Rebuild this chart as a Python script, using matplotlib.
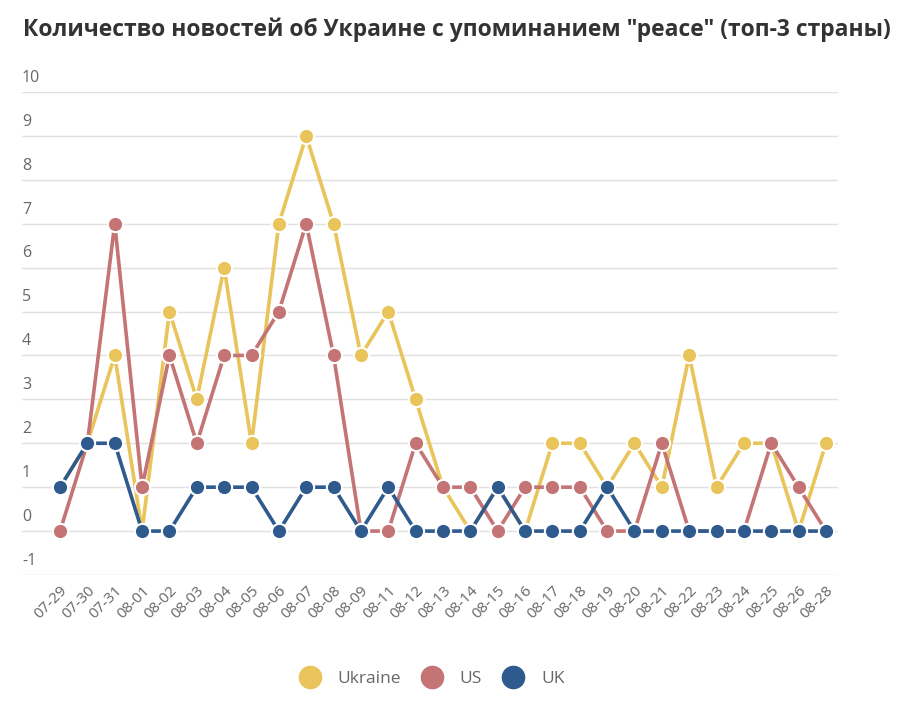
import matplotlib
matplotlib.use('Agg')
import matplotlib.pyplot as plt
import matplotlib.transforms as mtransforms
from matplotlib.lines import Line2D

dates = ['07-29', '07-30', '07-31', '08-01', '08-02', '08-03', '08-04', '08-05',
         '08-06', '08-07', '08-08', '08-09', '08-11', '08-12', '08-13', '08-14',
         '08-15', '08-16', '08-17', '08-18', '08-19', '08-20', '08-21', '08-22',
         '08-23', '08-24', '08-25', '08-26', '08-28']
ukraine = [1, 2, 4, 0, 5, 3, 6, 2, 7, 9, 7, 4, 5, 3, 1, 0, 1, 0, 2, 2, 1, 2, 1, 4, 1, 2, 2, 0, 2]
us = [0, 2, 7, 1, 4, 2, 4, 4, 5, 7, 4, 0, 0, 2, 1, 1, 0, 1, 1, 1, 0, 0, 2, 0, 0, 0, 2, 1, 0]
uk = [1, 2, 2, 0, 0, 1, 1, 1, 0, 1, 1, 0, 1, 0, 0, 0, 1, 0, 0, 0, 1, 0, 0, 0, 0, 0, 0, 0, 0]
yticks = list(range(-1, 11))

series = [('Ukraine', ukraine, '#e8c45a'), ('US', us, '#c47474'), ('UK', uk, '#2f5a8e')]

plt.rcParams['font.family'] = ['Open Sans', 'DejaVu Sans']

fig = plt.figure(figsize=(9.02, 7.09), dpi=100)
ax = fig.add_axes([22 / 902, (709 - 575) / 709, (838 - 22) / 902, (575 - 92) / 709])

x = list(range(len(dates)))
for i, (name, vals, col) in enumerate(series):
    ax.plot(x, vals, color=col, lw=2.6, marker='o', ms=11, mfc=col,
            mec='white', mew=1.5, zorder=3 + i, clip_on=False)

ax.set_xlim(-1.39, 28.44)
ax.set_ylim(-1, 10)
ax.set_yticks(yticks)
ax.yaxis.grid(True, color='#e0e0e0', lw=1)
ax.set_axisbelow(True)
ax.tick_params(axis='y', length=0, labelleft=False)
for s in ax.spines.values():
    s.set_visible(False)

trans = mtransforms.blended_transform_factory(ax.transAxes, ax.transData)
for v in yticks:
    ax.text(0, v + 0.14, str(v), transform=trans, ha='left', va='bottom',
            fontsize=11.5, color='#666666')

ax.set_xticks(x)
ax.set_xticklabels(dates, rotation=45, ha='right', rotation_mode='anchor',
                   fontsize=11, color='#666666')
ax.tick_params(axis='x', length=0, pad=6)

fig.text(0.506, 0.958, 'Количество новостей об Украине с упоминанием "peace" (топ-3 страны)',
         ha='center', va='center', fontsize=16.5, fontweight='bold', color='#333333')

handles = [Line2D([], [], ls='none', marker='o', ms=16, color=col, mec=col)
           for _, _, col in series]
fig.legend(handles, [n for n, _, _ in series], loc='center', bbox_to_anchor=(0.475, 0.043),
           ncol=3, frameon=False, fontsize=12.5, labelcolor='#666666',
           handletextpad=0.6, columnspacing=0.8)

fig.savefig('out.png', dpi=100)
